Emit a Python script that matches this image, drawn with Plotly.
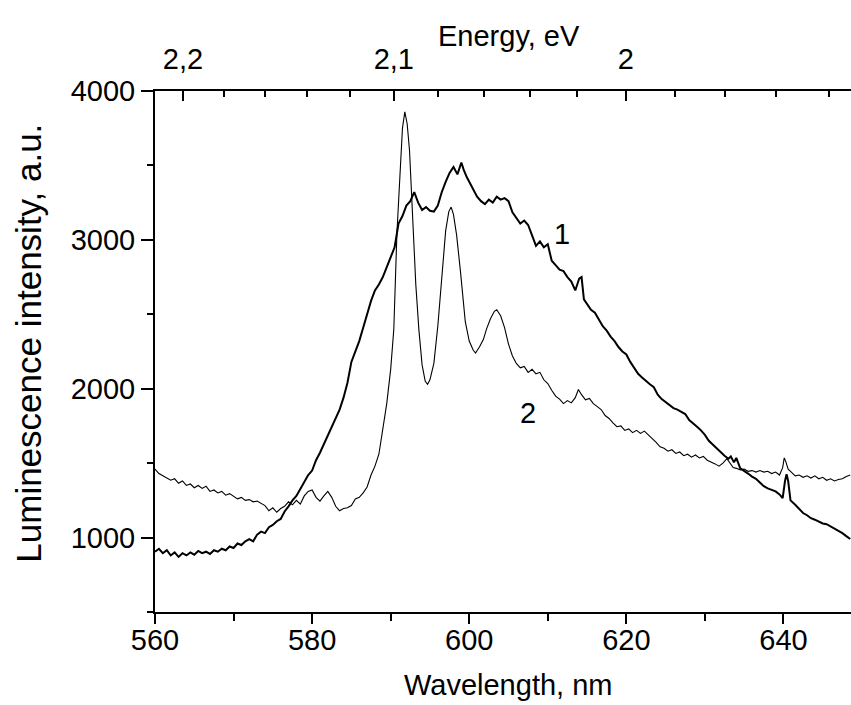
import plotly.graph_objects as go

# ---- data ----
wl1 = [560.0, 560.5, 561.0, 561.5, 562.0, 562.5, 563.0, 563.5, 564.0, 564.5,
       565.0, 565.5, 566.0, 566.5, 567.0, 567.5, 568.0, 568.5, 569.0, 569.5,
       570.0, 570.5, 571.0, 571.5, 572.0, 572.5, 573.0, 573.5, 574.0, 574.5,
       575.0, 575.5, 576.0, 576.5, 577.0, 577.5, 578.0, 578.5, 579.0, 579.5,
       580.0, 580.5, 581.0, 581.5, 582.0, 582.5, 583.0, 583.5, 584.0, 584.5,
       585.0, 585.5, 586.0, 586.5, 587.0, 587.5, 588.0, 588.5, 589.0, 589.5,
       590.0, 590.5, 591.0, 591.5, 592.0, 592.5, 593.0, 593.5, 594.0, 594.5,
       595.0, 595.5, 596.0, 596.5, 597.0, 597.5, 598.0, 598.5, 599.0, 599.3,
       599.7, 600.0, 600.5, 601.0, 601.5, 602.0, 602.5, 603.0, 603.5, 604.0,
       604.5, 605.0, 605.5, 606.0, 606.5, 607.0, 607.5, 608.0, 608.5, 609.0,
       609.5, 610.0, 610.5, 611.0, 611.5, 612.0, 612.5, 613.0, 613.5, 614.0,
       614.3, 614.6, 615.0, 615.5, 616.0, 616.5, 617.0, 617.5, 618.0, 618.5,
       619.0, 619.5, 620.0, 620.5, 621.0, 621.5, 622.0, 622.5, 623.0, 623.5,
       624.0, 624.5, 625.0, 625.5, 626.0, 626.5, 627.0, 627.5, 628.0, 628.5,
       629.0, 629.5, 630.0, 630.5, 631.0, 631.5, 632.0, 632.5, 633.0, 633.3,
       633.7, 634.0, 634.5, 635.0, 635.5, 636.0, 636.5, 637.0, 637.5, 638.0,
       638.5, 639.0, 639.5, 639.9, 640.2, 640.4, 640.6, 640.9, 641.5, 642.0,
       642.5, 643.0, 643.5, 644.0, 644.5, 645.0, 645.5, 646.0, 646.5, 647.0,
       647.5, 648.0, 648.5]
int1 = [905, 925, 895, 915, 880, 900, 870, 895, 880, 900,
        885, 910, 895, 905, 890, 915, 905, 925, 915, 940,
        930, 960, 950, 975, 990, 975, 1020, 1040, 1030, 1070,
        1085, 1110, 1125, 1175, 1210, 1250, 1280, 1330, 1370, 1420,
        1450, 1520, 1570, 1630, 1690, 1750, 1800, 1860, 1940, 2040,
        2180, 2250, 2320, 2410, 2500, 2590, 2660, 2700, 2750, 2820,
        2890, 2950, 3110, 3160, 3230, 3260, 3320, 3250, 3200, 3220,
        3195, 3190, 3230, 3320, 3390, 3450, 3490, 3440, 3520, 3470,
        3420, 3390, 3350, 3290, 3260, 3240, 3270, 3250, 3290, 3270,
        3280, 3260, 3185, 3150, 3110, 3130, 3100, 3030, 2960, 2990,
        2950, 2970, 2860, 2830, 2800, 2790, 2750, 2720, 2660, 2740,
        2750, 2600, 2570, 2530, 2510, 2460, 2420, 2390, 2350, 2320,
        2280, 2250, 2230, 2180, 2140, 2100, 2075, 2050, 2030, 2010,
        1960, 1930, 1910, 1895, 1870, 1860, 1845, 1830, 1790, 1770,
        1745, 1720, 1690, 1650, 1625, 1600, 1570, 1550, 1530, 1545,
        1505, 1535, 1465, 1450, 1430, 1410, 1395, 1370, 1345, 1330,
        1320, 1310, 1290, 1265, 1380, 1425, 1380, 1250, 1220, 1190,
        1165, 1150, 1130, 1120, 1105, 1095, 1090, 1075, 1060, 1050,
        1030, 1010, 990]

wl2 = [560.0, 560.5, 561.0, 561.5, 562.0, 562.5, 563.0, 563.5, 564.0, 564.5,
       565.0, 565.5, 566.0, 566.5, 567.0, 567.5, 568.0, 568.5, 569.0, 569.5,
       570.0, 570.5, 571.0, 571.5, 572.0, 572.5, 573.0, 573.5, 574.0, 574.5,
       575.0, 575.5, 576.0, 576.5, 577.0, 577.5, 578.0, 578.5, 579.0, 579.5,
       580.0, 580.5, 581.0, 581.5, 582.0, 582.5, 583.0, 583.5, 584.0, 584.5,
       585.0, 585.5, 586.0, 586.5, 587.0, 587.5, 588.0, 588.5, 589.0, 589.5,
       590.0, 590.4, 590.8, 591.2, 591.5, 591.8, 592.1, 592.4, 592.8, 593.2,
       593.6, 594.0, 594.4, 594.7, 595.0, 595.5, 596.0, 596.5, 597.0, 597.4,
       597.7, 598.0, 598.4, 598.9, 599.5, 600.0, 600.5, 600.8, 601.3, 601.8,
       602.2, 602.7, 603.2, 603.5, 604.0, 604.5, 605.0, 605.5, 606.0, 606.5,
       607.0, 607.5, 608.0, 608.5, 609.0, 609.5, 610.0, 610.5, 611.0, 611.5,
       612.0, 612.5, 613.0, 613.5, 613.9, 614.3, 614.8, 615.3, 615.8, 616.3,
       616.8, 617.3, 617.8, 618.3, 618.8, 619.3, 619.8, 620.3, 620.8, 621.3,
       621.8, 622.3, 622.8, 623.3, 623.8, 624.3, 624.8, 625.3, 625.8, 626.3,
       626.8, 627.3, 627.8, 628.3, 628.8, 629.3, 629.8, 630.3, 630.8, 631.3,
       631.8, 632.3, 632.8, 633.2, 633.6, 634.0, 634.5, 635.0, 635.5, 636.0,
       636.5, 637.0, 637.5, 638.0, 638.5, 639.0, 639.5, 639.9, 640.1, 640.3,
       640.6, 641.0, 641.5, 642.0, 642.5, 643.0, 643.5, 644.0, 644.5, 645.0,
       645.5, 646.0, 646.5, 647.0, 647.5, 648.0, 648.5]
int2 = [1460, 1430, 1415, 1400, 1385, 1395, 1365, 1380, 1350, 1360,
        1335, 1350, 1330, 1345, 1310, 1320, 1300, 1310, 1285, 1295,
        1275, 1260, 1270, 1250, 1255, 1240, 1245, 1230, 1215, 1180,
        1200, 1170, 1195, 1210, 1240, 1220, 1250, 1225, 1280, 1310,
        1320, 1270, 1245, 1280, 1310, 1270, 1210, 1180, 1195, 1200,
        1215, 1260, 1270, 1300, 1340, 1420, 1480, 1560, 1720, 1900,
        2130, 2400, 3050, 3500, 3750, 3860, 3780, 3600, 3150, 2700,
        2390, 2160, 2050, 2030, 2060, 2170, 2420, 2750, 3060, 3190,
        3220, 3170, 3030, 2780, 2450, 2320, 2260, 2240, 2280, 2330,
        2400, 2470, 2520, 2530, 2490, 2410, 2300, 2220, 2170, 2140,
        2150, 2110, 2130, 2100, 2110, 2060, 2035, 1990, 1950, 1930,
        1900, 1920, 1905, 1940, 1995, 1960, 1925, 1935, 1900, 1880,
        1860, 1820, 1800, 1770, 1745, 1750, 1720, 1730, 1705, 1720,
        1700, 1715, 1690, 1670, 1640, 1610, 1600, 1580, 1590, 1565,
        1575, 1550, 1560, 1540, 1555, 1535, 1545, 1520, 1510, 1495,
        1480, 1500, 1530, 1500, 1470, 1465, 1455, 1460, 1445, 1450,
        1440, 1450, 1440, 1445, 1430, 1440, 1420, 1470, 1535, 1510,
        1460, 1440, 1415, 1420, 1405, 1415, 1400, 1415, 1395, 1405,
        1385, 1395, 1380, 1390, 1395, 1410, 1420]

wl_ticks = [560, 580, 600, 620, 640]
wl_minor = [570, 590, 610, 630]
int_ticks = [1000, 2000, 3000, 4000]
int_minor = [500, 1500, 2500, 3500]
energy_ticks = [2.2, 2.1, 2.0]
energy_labels = ["2,2", "2,1", "2"]
energy_minor = [2.18, 2.16, 2.14, 2.12, 2.08, 2.06, 2.04, 2.02, 1.98, 1.96, 1.94, 1.92]
HC = 1239.84  # eV*nm

curve_labels = ["1", "2"]
label_x = [611.8, 607.5]
label_y = [3040, 1840]

x_title = "Wavelength, nm"
top_title = "Energy, eV"
y_title = "Luminescence intensity, a.u."

FONT = "Liberation Sans, Arial, sans-serif"
FS = 29
XR = [560, 648.6]

fig = go.Figure()
fig.add_trace(go.Scatter(x=wl1, y=int1, mode="lines",
                         line=dict(color="black", width=2), showlegend=False))
fig.add_trace(go.Scatter(x=wl2, y=int2, mode="lines",
                         line=dict(color="black", width=1.1), showlegend=False))
fig.add_trace(go.Scatter(x=[XR[0]], y=[None], xaxis="x2", yaxis="y",
                         mode="lines", showlegend=False, hoverinfo="skip"))

for t, xx, yy in zip(curve_labels, label_x, label_y):
    fig.add_annotation(text=t, x=xx, y=yy, showarrow=False,
                       font=dict(family=FONT, size=FS, color="black"))

# axis titles
fig.add_annotation(text=x_title, xref="paper", yref="paper", x=0.507, y=-0.141,
                   xanchor="center", yanchor="middle", showarrow=False,
                   font=dict(family=FONT, size=FS, color="black"))
fig.add_annotation(text=top_title, xref="paper", yref="paper", x=0.509, y=1.105,
                   xanchor="center", yanchor="middle", showarrow=False,
                   font=dict(family=FONT, size=FS, color="black"))
fig.add_annotation(text=y_title, xref="paper", yref="paper", x=-0.181, y=0.515,
                   xanchor="center", yanchor="middle", showarrow=False,
                   textangle=-90,
                   font=dict(family=FONT, size=35, color="black"))

axis_common = dict(showline=True, linewidth=2, linecolor="black",
                   showgrid=False, zeroline=False,
                   tickcolor="black", tickwidth=2,
                   tickfont=dict(family=FONT, size=FS, color="black"))

fig.update_layout(
    width=851, height=705,
    margin=dict(l=155, r=0, t=91, b=93),
    paper_bgcolor="white", plot_bgcolor="white",
    showlegend=False,
    xaxis=dict(range=XR, tickmode="array", tickvals=wl_ticks,
               ticks="outside", ticklen=10, ticklabelstandoff=-9,
               minor=dict(tickmode="array", tickvals=wl_minor, ticks="outside",
                          ticklen=7, tickwidth=2, tickcolor="black"),
               **axis_common),
    xaxis2=dict(range=XR, overlaying="x", side="top", anchor="y",
                tickmode="array", tickvals=[HC / e for e in energy_ticks],
                ticktext=energy_labels, ticks="inside", ticklen=10,
                ticklabelstandoff=8,
                minor=dict(tickmode="array", tickvals=[HC / e for e in energy_minor],
                           ticks="inside", ticklen=6, tickwidth=2, tickcolor="black"),
                **axis_common),
    yaxis=dict(range=[500, 4000], tickmode="array", tickvals=int_ticks,
               ticks="outside", ticklen=12,
               minor=dict(tickmode="array", tickvals=int_minor, ticks="outside",
                          ticklen=6, tickwidth=2, tickcolor="black"),
               **axis_common),
)

fig.write_html("out.html")
